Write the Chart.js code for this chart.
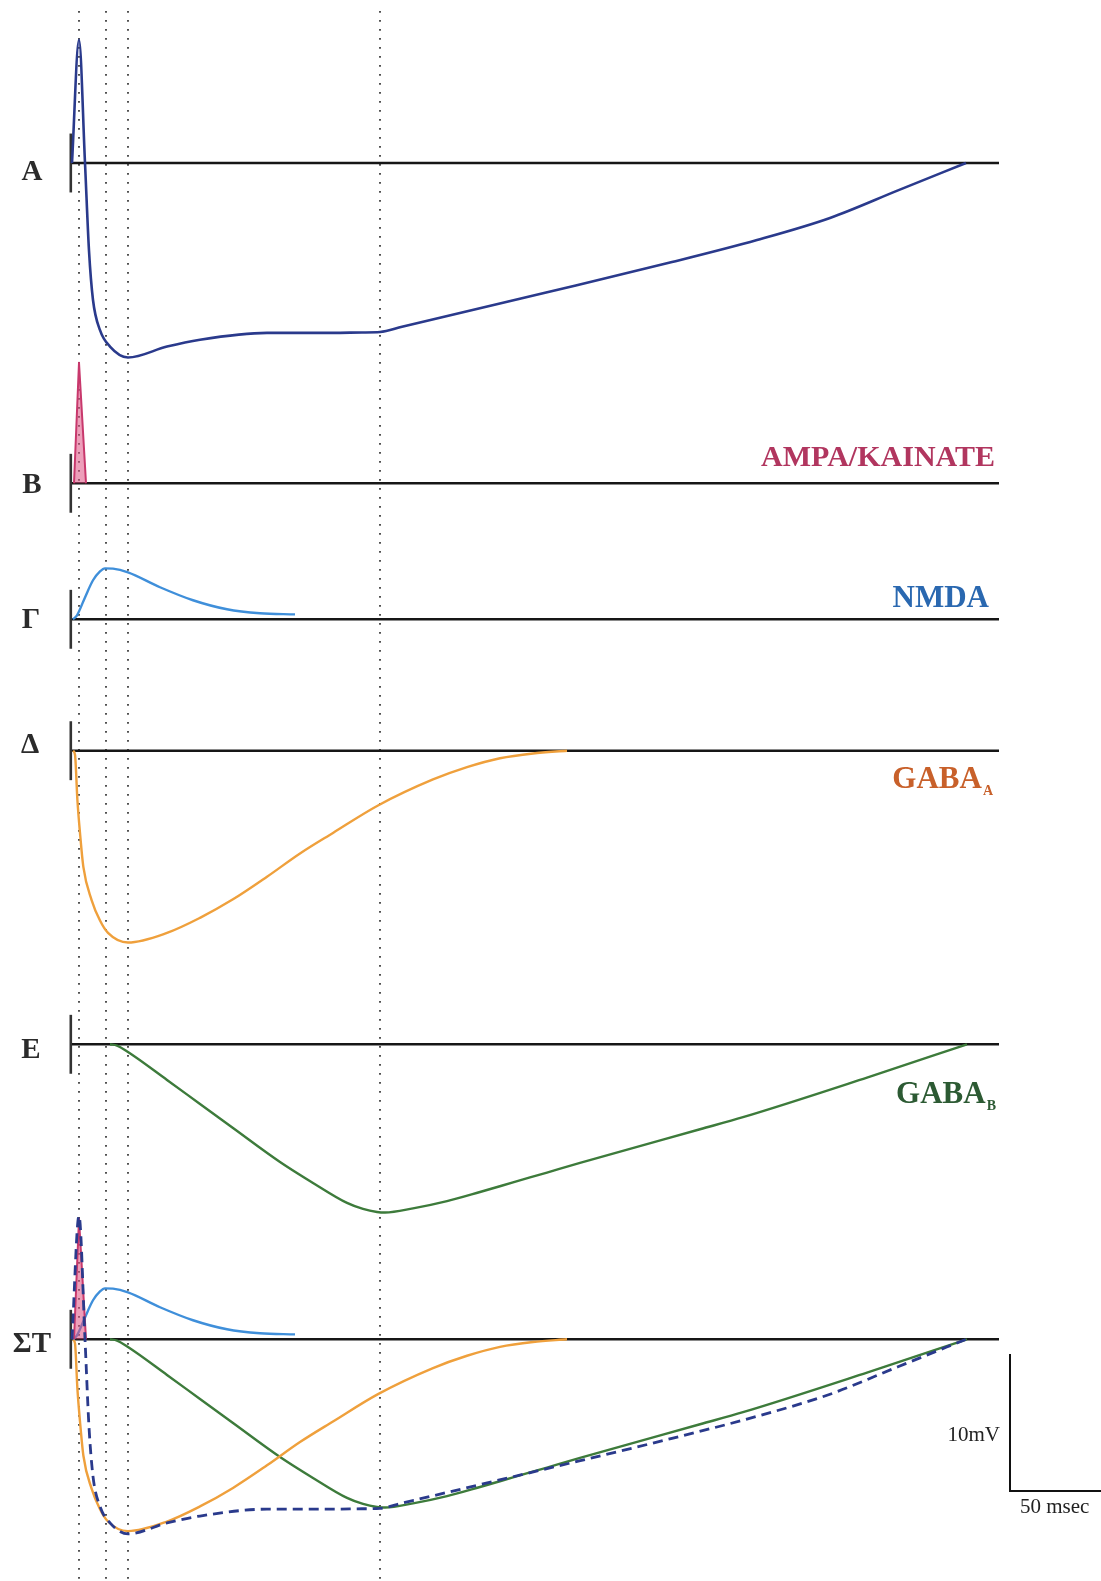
<!DOCTYPE html>
<html><head><meta charset="utf-8">
<script src="https://cdn.jsdelivr.net/npm/chart.js@4/dist/chart.umd.min.js"></script>
<style>html,body{margin:0;padding:0;background:#fff;overflow:hidden}canvas{display:block}</style>
</head><body>
<canvas id="c" width="1101" height="1581"></canvas>
<script>
// ---------- DATA (time in ms, potential in mV) ----------
const PANEL_NAMES = ['A', 'B', 'Γ', 'Δ', 'E', 'ΣT'];

// A / ΣT : total postsynaptic response
const SUM_T  = [0, 3.5, 6.5, 8.5, 10.5, 14, 19, 28, 47.5, 64, 97.5, 130.5, 145, 154, 165, 236, 300, 342.5, 379, 413, 447];
const SUM_MV = [0, 9.0, 0, -6.4, -10.0, -12.2, -13.4, -14.2, -13.4, -12.9, -12.4, -12.4, -12.37, -12.34, -11.96, -9.49, -7.23, -5.62, -4.01, -2.0, 0];

// B : AMPA/KAINATE
const AMPA_T  = [1, 3.5, 7];
const AMPA_MV = [0, 8.8, 0];

// Γ : NMDA
const NMDA_T  = [0.5, 2.5, 6.5, 10.5, 14, 16.5, 20.5, 28, 44, 60.5, 77.5, 94, 111.5];
const NMDA_MV = [0, 0.29, 1.6, 2.85, 3.5, 3.72, 3.7, 3.43, 2.34, 1.39, 0.73, 0.44, 0.36];

// Δ : GABA_A
const GABAA_T  = [0.5, 1.5, 2.7, 4, 5.7, 9.8, 14, 18, 28, 47.5, 64, 80.5, 97.5, 114, 130.5, 153, 180.5, 197.5, 214, 230.5, 247.5];
const GABAA_MV = [0, -0.3, -3.6, -6.0, -8.5, -10.9, -12.4, -13.3, -14.0, -13.3, -12.2, -10.85, -9.2, -7.5, -6.0, -4.0, -2.1, -1.2, -0.55, -0.2, 0];

// E : GABA_B
const GABAB_T  = [19, 22.5, 28, 47.5, 64, 80.5, 104, 120.5, 137.5, 145.5, 152.5, 156.5, 170.5, 187.5, 204, 220.5, 237.5, 254, 314, 335.5, 397.5, 447.5];
const GABAB_MV = [0, -0.09, -0.56, -2.6, -4.36, -6.11, -8.59, -10.12, -11.58, -12.02, -12.24, -12.28, -11.98, -11.45, -10.78, -10.08, -9.36, -8.66, -6.2, -5.32, -2.43, 0];

// reference times of the dotted markers (ms)
const MARK_T = [3.5, 17, 28, 154];

// scale bar
const SCALE_MV = 10;
const SCALE_MS = 50;
const BASELINE_END_MS = 463.5;

// ---------- LAYOUT ----------
const W = 1101, H = 1581;
const PX_PER_MS = 2, X0_PX = 72, PX_PER_MV = 13.7;
const xMin = -X0_PX / PX_PER_MS, xMax = (W - X0_PX) / PX_PER_MS;
const yMax = 0, yMin = -H / PX_PER_MV;
const BASE_PX = [163, 483.3, 619.3, 750.7, 1044.3, 1339.3];
const OFF = BASE_PX.map(b => -b / PX_PER_MV);
const TICK_HALF_MV = 2.15;

const COL = {
  sum: '#2a3a8c', ampa: '#c8386c', ampaFill: 'rgba(222,80,130,0.55)',
  nmda: '#3f8fda', gabaA: '#efa03c', gabaB: '#3d7b3b', axis: '#161616', dot: '#333333'
};

function pts(ts, vs, o) { return ts.map((t, i) => ({ x: t, y: vs[i] + o })); }

const datasets = [];
// dotted markers
MARK_T.forEach(t => datasets.push({
  data: [{ x: t, y: -11 / PX_PER_MV }, { x: t, y: yMin }],
  borderColor: COL.dot, borderWidth: 1.7, borderDash: [1.7, 7.3], order: 30, tension: 0
}));
// baselines + ticks
OFF.forEach(o => {
  datasets.push({ data: [{ x: 0, y: o }, { x: BASELINE_END_MS, y: o }], borderColor: COL.axis, borderWidth: 2.6, order: 20, tension: 0 });
  datasets.push({ data: [{ x: -0.6, y: o - TICK_HALF_MV }, { x: -0.6, y: o + TICK_HALF_MV }], borderColor: '#333', borderWidth: 2.6, order: 20, tension: 0 });
});

function trace(ts, vs, o, color, extra) {
  return Object.assign({
    data: pts(ts, vs, o), borderColor: color, borderWidth: 2.4,
    cubicInterpolationMode: 'monotone', order: 5
  }, extra || {});
}
function ampa(o) {
  return trace(AMPA_T, AMPA_MV, o, COL.ampa, { tension: 0, cubicInterpolationMode: 'default', fill: { value: o }, backgroundColor: COL.ampaFill, borderWidth: 2 });
}
// A
datasets.push(trace(SUM_T, SUM_MV, OFF[0], COL.sum, { borderWidth: 2.6 }));
// B
datasets.push(ampa(OFF[1]));
// Γ
datasets.push(trace(NMDA_T, NMDA_MV, OFF[2], COL.nmda));
// Δ
datasets.push(trace(GABAA_T, GABAA_MV, OFF[3], COL.gabaA));
// E
datasets.push(trace(GABAB_T, GABAB_MV, OFF[4], COL.gabaB));
// ΣT
datasets.push(ampa(OFF[5]));
datasets.push(trace(NMDA_T, NMDA_MV, OFF[5], COL.nmda));
datasets.push(trace(GABAA_T, GABAA_MV, OFF[5], COL.gabaA));
datasets.push(trace(GABAB_T, GABAB_MV, OFF[5], COL.gabaB));
datasets.push(trace(SUM_T, SUM_MV, OFF[5], COL.sum, { borderWidth: 2.8, borderDash: [10, 6], order: 1 }));

// scale bar
const SB_T = (1010 - X0_PX) / PX_PER_MS;
const SB_V = -1491 / PX_PER_MV;
datasets.push({ data: [{ x: SB_T, y: SB_V + SCALE_MV }, { x: SB_T, y: SB_V }, { x: SB_T + SCALE_MS, y: SB_V }],
  borderColor: '#111', borderWidth: 2, tension: 0, order: 2, borderJoinStyle: 'miter' });

const textPlugin = {
  id: 'texts',
  afterDatasetsDraw(chart) {
    const ctx = chart.ctx;
    ctx.save();
    ctx.textBaseline = 'alphabetic';
    // panel letters
    ctx.fillStyle = '#2b2b2b';
    ctx.font = 'bold 29px "Liberation Serif", "DejaVu Serif", serif';
    ctx.textAlign = 'center';
    const letterPos = [[32, 180], [32, 493], [31, 628], [30, 753], [31, 1058], [32, 1352]];
    PANEL_NAMES.forEach((n, i) => ctx.fillText(n, letterPos[i][0], letterPos[i][1]));
    // receptor labels
    ctx.textAlign = 'right';
    ctx.font = 'bold 30px "Liberation Serif", serif';
    ctx.fillStyle = '#b1365f'; ctx.fillText('AMPA/KAINATE', 995, 466);
    ctx.font = 'bold 31px "Liberation Serif", serif';
    ctx.fillStyle = '#2a68b0'; ctx.fillText('NMDA', 989, 607);
    function sub(main, s, color, xEnd, y, ys) {
      ctx.fillStyle = color;
      ctx.font = 'bold 14px "Liberation Serif", serif';
      const sw = ctx.measureText(s).width;
      ctx.textAlign = 'left';
      ctx.fillText(s, xEnd - sw, ys);
      ctx.font = 'bold 31px "Liberation Serif", serif';
      ctx.textAlign = 'right';
      ctx.fillText(main, xEnd - sw - 1, y);
    }
    sub('GABA', 'A', '#c8602a', 993, 788, 795);
    sub('GABA', 'B', '#2c5a33', 996, 1103, 1110);
    // scale bar labels
    ctx.fillStyle = '#222';
    ctx.font = '21px "Liberation Serif", serif';
    ctx.textAlign = 'right'; ctx.fillText('10mV', 1000, 1441);
    ctx.textAlign = 'left'; ctx.fillText('50 msec', 1020, 1513);
    ctx.restore();
  }
};

datasets.forEach(d => { d.pointRadius = 0; d.clip = false; d.borderJoinStyle = d.borderJoinStyle || 'round'; if (d.fill === undefined) d.fill = false; });

new Chart(document.getElementById('c'), {
  type: 'line',
  data: { datasets },
  options: {
    responsive: false, animation: false, devicePixelRatio: 1, events: [],
    layout: { padding: 0 },
    plugins: { legend: { display: false }, tooltip: { enabled: false } },
    scales: {
      x: { type: 'linear', min: xMin, max: xMax, display: false },
      y: { type: 'linear', min: yMin, max: yMax, display: false }
    }
  },
  plugins: [textPlugin]
});
</script>
</body></html>
